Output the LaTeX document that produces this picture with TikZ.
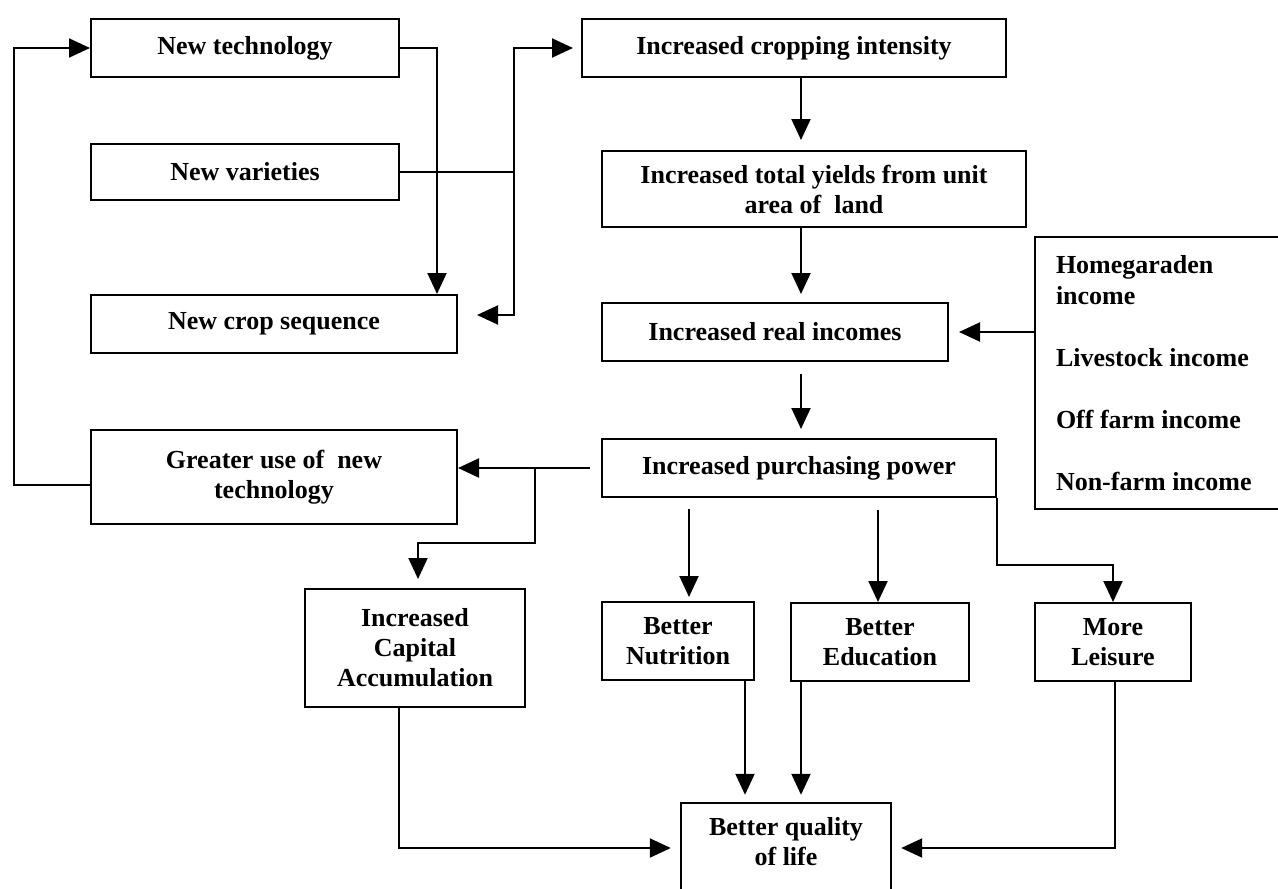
\documentclass[tikz,border=0pt]{standalone}
\usepackage{fontspec}
\setmainfont{Liberation Serif}
\usetikzlibrary{arrows.meta,calc}
\begin{document}
\begin{tikzpicture}[x=1pt,y=-1pt,
  txt/.style={inner sep=0pt,align=center,font=\fontsize{26}{30}\selectfont\bfseries},
  box/.style={txt,draw,line width=2pt},
  arr/.style={line width=2pt,-{Triangle[length=21pt,width=19pt]}},
  ln/.style={line width=2pt}]
\useasboundingbox (0,0) rectangle (1278,889);
\clip (0,0) rectangle (1278,889);
\fill[white] (0,0) rectangle (1278,889);

\node[box,minimum width=308pt,minimum height=58pt] (nt) at (245,48) {New technology};
\node[box,minimum width=308pt,minimum height=56pt] (nv) at (245,172) {New varieties};
\node[box,minimum width=366pt,minimum height=58pt] (ncs) at (274,324) {New crop sequence};
\node[box,minimum width=366pt,minimum height=94pt] (gu) at (274,477) {Greater use of~ new\\technology};
\node[box,minimum width=424pt,minimum height=58pt] (ici) at (794,48) {Increased cropping intensity};
\node[box,minimum width=424pt,minimum height=76pt] (ity) at (814,189) {Increased total yields from unit\\area of~ land};
\node[box,minimum width=346pt,minimum height=58pt] (iri) at (775,332) {Increased real incomes};
\node[box,minimum width=394pt,minimum height=58pt] (ipp) at (799,468) {Increased purchasing power};
\node[box,text width=214pt,inner xsep=21pt,minimum height=272pt,align=left,font=\fontsize{26}{31}\selectfont\bfseries] (hg) at (1163,373)
  {\spaceskip=0pt\xspaceskip=0pt\relax Homegaraden\\income\\[31pt]Livestock income\\[31pt]Off farm income\\[31pt]Non-farm income};
\node[box,minimum width=220pt,minimum height=118pt] (cap) at (415,648) {Increased\\Capital\\Accumulation};
\node[box,minimum width=152pt,minimum height=78pt] (nut) at (678,641) {Better\\Nutrition};
\node[box,minimum width=178pt,minimum height=78pt] (edu) at (880,642) {Better\\Education};
\node[box,minimum width=156pt,minimum height=78pt] (lei) at (1113,642) {More\\Leisure};
\node[txt,minimum width=210pt,minimum height=78pt] (qol) at (786,842) {Better quality\\of life};
\draw[ln] ($(qol.south west)+(0,20)$) -- (qol.north west) -- (qol.north east) -- ($(qol.south east)+(0,20)$);

\coordinate (xA) at (437,0);
\coordinate (xV) at (514,0);
\coordinate (xL) at (14,0);
\coordinate (xC) at (801,0);
\coordinate (xB) at (535,0);
\coordinate (xK) at (418,543);
\coordinate (xN) at (689,0);
\coordinate (xE) at (878,0);
\coordinate (xN2) at (745,0);
\coordinate (xQ) at (399,0);
\coordinate (xM) at (1115,0);

\draw[arr] (nt.east) -| (xA |- ncs.north);
\draw[ln] (nv.east) -- (nv.east -| xV);
\draw[arr,shorten >=8pt] (nv.east -| xV) |- (ici.west);
\draw[arr,shorten >=19pt] (nv.east -| xV) |- ($(ncs.east)+(0,-9)$);
\draw[arr,shorten >=10pt] (xC |- ici.south) -- (xC |- ity.north);
\draw[arr,shorten >=8pt] (xC |- ity.south) -- (xC |- iri.north);
\draw[arr,shorten <=12pt,shorten >=9pt] (xC |- iri.south) -- (xC |- ipp.north);
\draw[arr,shorten >=10pt] (hg.west |- iri.east) -- (iri.east);
\draw[arr,shorten <=11pt] (ipp.west) -- (ipp.west -| gu.east);
\draw[arr,shorten >=9pt] (xB |- ipp.west) |- (xK) -- (xK |- cap.north);
\draw[arr] ($(gu.west)+(0,8)$) -| (xL |- nt.west) -- (nt.west);
\draw[arr,shorten <=11pt,shorten >=4pt] (xN |- ipp.south) -- (xN |- nut.north);
\draw[arr,shorten <=12pt] (xE |- ipp.south) -- (xE |- edu.north);
\draw[arr] (ipp.south east) |- ($(lei.north)+(0,-37)$) -- (lei.north);
\draw[arr,shorten >=8pt] (xN2 |- nut.south) -- (xN2 |- qol.north);
\draw[arr,shorten >=8pt] (xC |- edu.south) -- (xC |- qol.north);
\draw[arr,shorten >=10pt] (xQ |- cap.south) |- ($(qol.west)+(0,6)$);
\draw[arr,shorten >=10pt] (xM |- lei.south) |- ($(qol.east)+(0,6)$);
\end{tikzpicture}
\end{document}
